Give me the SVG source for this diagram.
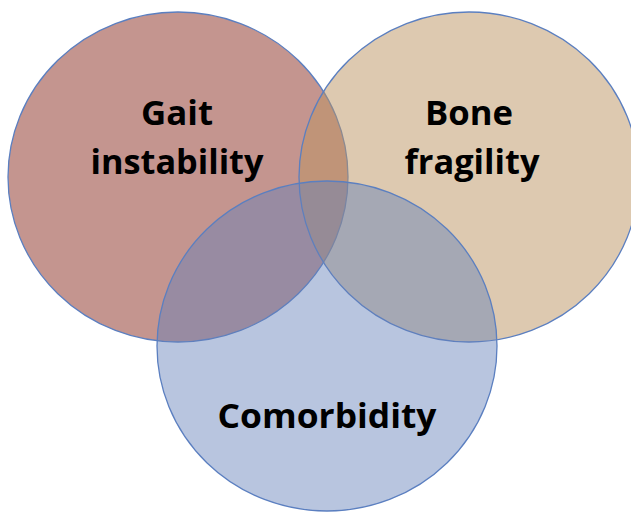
<svg xmlns="http://www.w3.org/2000/svg" width="631" height="512" viewBox="0 0 631 512">
<style>
.c{stroke:#5B7FC0;stroke-width:1.3}
.t{font-family:"Open Sans","Noto Sans","Liberation Sans",sans-serif;font-weight:700;font-size:34px;fill:#000;text-anchor:middle}
</style>
<rect width="631" height="512" fill="#fff"/>
<g id="gait">
<ellipse class="c" cx="178" cy="177" rx="170" ry="165" fill="#C4958F"/>
</g>
<g id="bone">
<ellipse class="c" cx="469" cy="177" rx="170" ry="165" fill="#BB9361" fill-opacity="0.5"/>
</g>
<g id="comorbidity">
<ellipse class="c" cx="327" cy="346" rx="170" ry="165" fill="#6481BA" fill-opacity="0.46"/>
</g>
<g id="labels">
<text class="t" x="177" y="125" textLength="72" lengthAdjust="spacingAndGlyphs">Gait</text>
<text class="t" x="177" y="174" textLength="173" lengthAdjust="spacingAndGlyphs">instability</text>
<text class="t" x="469" y="125" textLength="88" lengthAdjust="spacingAndGlyphs">Bone</text>
<text class="t" x="472" y="174" textLength="135" lengthAdjust="spacingAndGlyphs">fragility</text>
<text class="t" x="327" y="428" textLength="219" lengthAdjust="spacingAndGlyphs">Comorbidity</text>
</g>
<g id="connectors"/>
</svg>
